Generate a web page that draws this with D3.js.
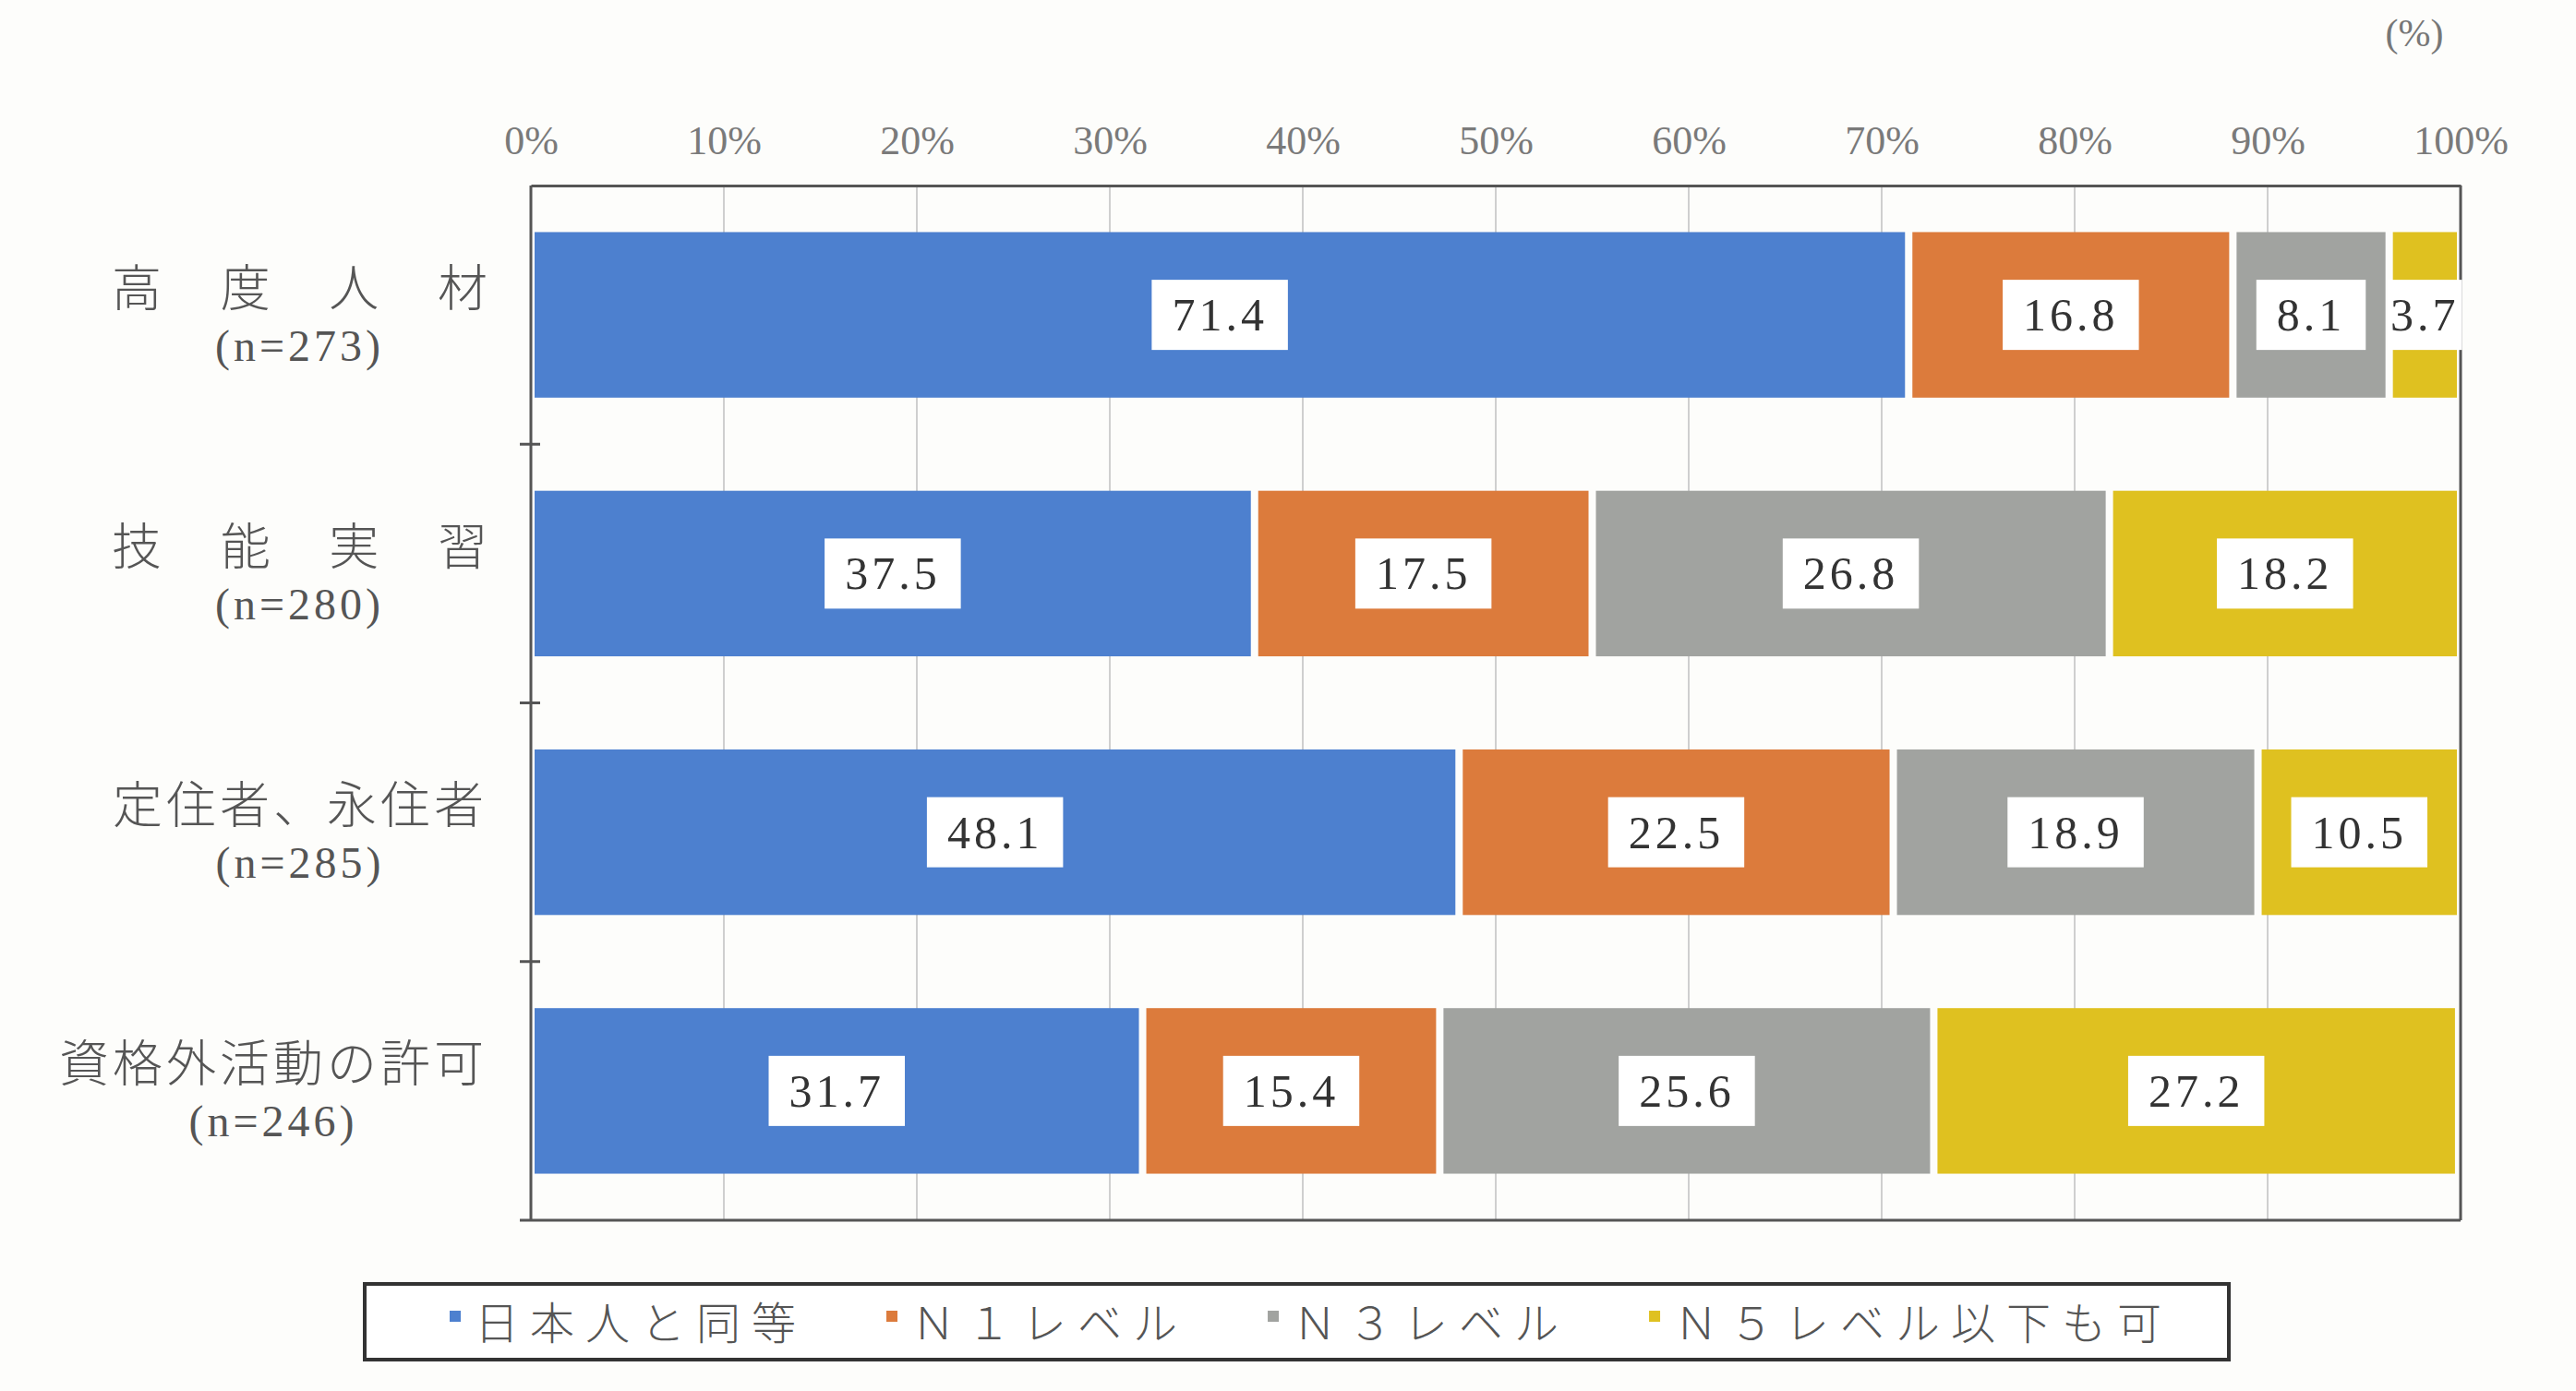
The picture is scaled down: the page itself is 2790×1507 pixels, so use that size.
<!DOCTYPE html>
<html>
<head>
<meta charset="utf-8">
<script src="https://cdn.jsdelivr.net/npm/d3@7"></script>
<style>
  html, body { margin: 0; padding: 0; background: #fdfdfb; }
  svg { display: block; }
</style>
</head>
<body>
<svg id="chart" width="2790" height="1507"></svg>
<script>
// ---- data ----
const categories = ["高度人材", "技能実習", "定住者、永住者", "資格外活動の許可"];
const sampleSizes = ["(n=273)", "(n=280)", "(n=285)", "(n=246)"];
const seriesNames = ["日本人と同等", "Ｎ１レベル", "Ｎ３レベル", "Ｎ５レベル以下も可"];
const sameAsJapanese = [71.4, 37.5, 48.1, 31.7];
const levelN1 = [16.8, 17.5, 22.5, 15.4];
const levelN3 = [8.1, 26.8, 18.9, 25.6];
const levelN5OrBelow = [3.7, 18.2, 10.5, 27.2];
const tickValues = [0, 10, 20, 30, 40, 50, 60, 70, 80, 90, 100];
const tickLabels = ["0%", "10%", "20%", "30%", "40%", "50%", "60%", "70%", "80%", "90%", "100%"];
const unitLabel = "(%)";
const colors = ["#4d80cf", "#dc7b3c", "#a1a3a0", "#dfc120"];

// ---- build table ----
const seriesValues = [sameAsJapanese, levelN1, levelN3, levelN5OrBelow];
const rows = categories.map((c, i) => {
  const r = { category: c, n: sampleSizes[i] };
  seriesNames.forEach((s, j) => { r[s] = seriesValues[j][i]; });
  return r;
});
const stacked = d3.stack().keys(seriesNames)(rows);

const svg = d3.select("#chart");
const serifFont = "'Liberation Serif', 'DejaVu Serif', serif";
const jpFont = "'Noto Sans CJK JP', 'Noto Sans', sans-serif";

const plotTop = 201, plotBottom = 1322;
const x = d3.scaleLinear().domain([0, 100]).range([575, 2665]);
const y = d3.scaleBand().domain(categories).range([plotTop, plotBottom]).paddingInner(0.36).paddingOuter(0.18);

// gridlines
svg.append("g").selectAll("line").data(tickValues.slice(1, -1)).join("line")
  .attr("x1", d => x(d)).attr("x2", d => x(d))
  .attr("y1", plotTop).attr("y2", plotBottom)
  .attr("stroke", "#cfcfcf").attr("stroke-width", 2);

// bars
const gap = 4;
svg.append("g").selectAll("g").data(stacked).join("g")
  .attr("fill", (d, i) => colors[i])
  .selectAll("rect").data(d => d).join("rect")
  .attr("x", d => x(d[0]) + gap)
  .attr("width", d => Math.max(0, x(d[1]) - x(d[0]) - 2 * gap))
  .attr("y", d => y(d.data.category))
  .attr("height", y.bandwidth());

// frame
const frame = svg.append("g").attr("stroke", "#555").attr("stroke-width", 3).attr("fill", "none");
frame.append("line").attr("x1", x(0)).attr("x2", x(0)).attr("y1", plotTop).attr("y2", plotBottom);
frame.append("line").attr("x1", x(100)).attr("x2", x(100)).attr("y1", plotTop).attr("y2", plotBottom);
frame.append("line").attr("x1", x(0) - 12).attr("x2", x(100)).attr("y1", plotBottom).attr("y2", plotBottom);
const boundaries = categories.slice(1).map(c => y(c) - y.step() * y.paddingInner() / 2);
frame.selectAll("line.tk").data(boundaries).join("line").attr("class", "tk")
  .attr("x1", x(0) - 12).attr("x2", x(0) + 10).attr("y1", d => d).attr("y2", d => d);

// top axis
const axisTop = d3.axisTop(x).tickValues(tickValues)
  .tickFormat((d, i) => tickLabels[i]).tickSize(0).tickSizeOuter(0).tickPadding(34);
const ax = svg.append("g").attr("transform", `translate(0,${plotTop})`).call(axisTop);
ax.select(".domain").attr("stroke", "#555").attr("stroke-width", 3);
ax.selectAll("text").attr("font-family", serifFont).attr("font-size", 44)
  .attr("fill", "#7a7a7a");

// unit label
svg.append("text").attr("x", 2615).attr("y", 50).attr("text-anchor", "middle")
  .attr("font-family", serifFont).attr("font-size", 42).attr("fill", "#777").text(unitLabel);

// value labels
const fmt = d3.format(".1f");
const labelG = svg.append("g");
stacked.forEach((s) => {
  s.forEach(d => {
    const v = d[1] - d[0];
    const cx = x((d[0] + d[1]) / 2);
    const cy = y(d.data.category) + y.bandwidth() / 2;
    const g = labelG.append("g");
    const rect = g.append("rect").attr("fill", "#ffffff");
    const t = g.append("text").attr("x", cx).attr("y", cy)
      .attr("text-anchor", "middle").attr("dominant-baseline", "central")
      .attr("font-family", serifFont).attr("font-size", 50).attr("letter-spacing", 4)
      .attr("fill", "#333").text(fmt(v));
    const tw = t.node().getComputedTextLength();
    const segW = x(d[1]) - x(d[0]);
    const w = Math.max(Math.min(tw + 44, segW - 14), tw + 6);
    rect.attr("x", cx - w / 2).attr("y", cy - 38).attr("width", w).attr("height", 76);
  });
});

// category labels
const catG = svg.append("g");
categories.forEach((c, i) => {
  const cy = y(c) + y.bandwidth() / 2;
  const t = catG.append("text").attr("x", 528).attr("y", cy - 33)
    .attr("text-anchor", "end").attr("dominant-baseline", "central")
    .attr("font-family", jpFont).attr("font-weight", 300).attr("font-size", 54).attr("letter-spacing", 4)
    .attr("fill", "#555").text(c);
  let w = t.node().getComputedTextLength();
  if (w < 400) {
    t.attr("textLength", 407).attr("lengthAdjust", "spacing").attr("letter-spacing", 0);
    w = 407;
  }
  catG.append("text").attr("x", 528 - w / 2).attr("y", cy + 33)
    .attr("text-anchor", "middle").attr("dominant-baseline", "central")
    .attr("font-family", serifFont).attr("font-size", 48).attr("letter-spacing", 4)
    .attr("fill", "#555").text(sampleSizes[i]);
});

// legend
const legend = svg.append("g");
legend.append("rect").attr("x", 395).attr("y", 1391).attr("width", 2019).attr("height", 82)
  .attr("fill", "#ffffff").attr("stroke", "#333").attr("stroke-width", 4);
let lx = 493;
seriesNames.forEach((s, i) => {
  legend.append("rect").attr("x", lx - 6).attr("y", 1426 - 6).attr("width", 12).attr("height", 12)
    .attr("fill", colors[i]);
  const t = legend.append("text").attr("x", lx + 21).attr("y", 1430)
    .attr("dominant-baseline", "central")
    .attr("font-family", jpFont).attr("font-weight", 300).attr("font-size", 48).attr("letter-spacing", 12)
    .attr("fill", "#555").text(s);
  lx += 21 + t.node().getComputedTextLength() + 92;
});
</script>
</body>
</html>
